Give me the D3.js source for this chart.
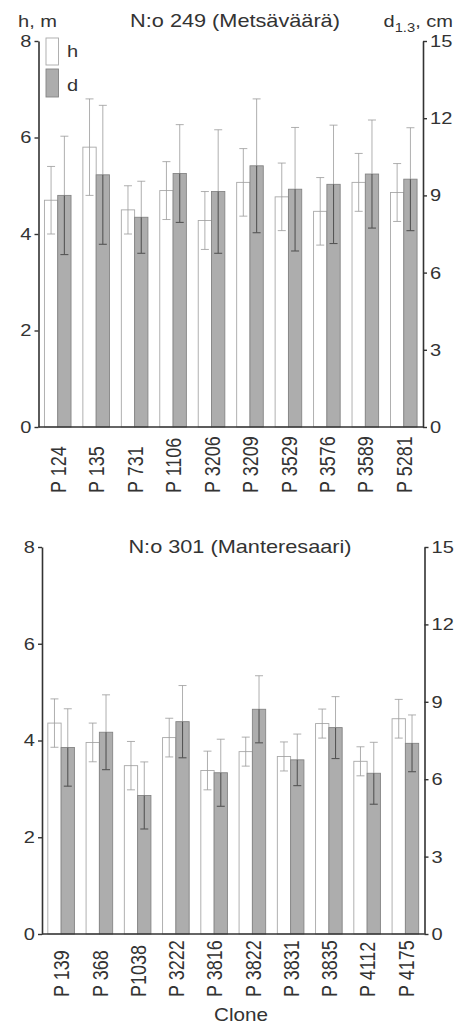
<!DOCTYPE html>
<html>
<head>
<meta charset="utf-8">
<script src="https://cdn.jsdelivr.net/npm/d3@7"></script>
<style>
body { margin: 0; background: #fff; }
text { font-family: "Liberation Sans", Arial, sans-serif; fill: #333; }
</style>
</head>
<body>
<div id="chart"></div>
<script>
var width = 455, height = 1026;
var sx = 1.18; // the scanned figure is a bit wider than tall

// N:o 249 (Metsäväärä)
var clones1 = ["P 124", "P 135", "P 731", "P 1106", "P 3206", "P 3209", "P 3529", "P 3576", "P 3589", "P 5281"];
var h1   = [4.7, 5.8, 4.5, 4.9, 4.28, 5.07, 4.77, 4.47, 5.07, 4.86];
var hsd1 = [0.7, 1.0, 0.5, 0.6, 0.6, 0.7, 0.7, 0.7, 0.6, 0.6];
var d1   = [9.0, 9.8, 8.15, 9.85, 9.15, 10.15, 9.24, 9.43, 9.83, 9.63];
var dsd1 = [2.3, 2.7, 1.4, 1.9, 2.4, 2.6, 2.4, 2.3, 2.1, 2.0];

// N:o 301 (Manteresaari)
var clones2 = ["P 139", "P 368", "P1038", "P 3222", "P 3816", "P 3822", "P 3831", "P 3835", "P 4112", "P 4175"];
var h2   = [4.36, 3.96, 3.48, 4.06, 3.38, 3.77, 3.67, 4.35, 3.57, 4.45];
var hsd2 = [0.5, 0.4, 0.5, 0.4, 0.4, 0.3, 0.3, 0.3, 0.3, 0.4];
var d2   = [7.23, 7.82, 5.37, 8.23, 6.25, 8.71, 6.75, 8.0, 6.23, 7.39];
var dsd2 = [1.5, 1.45, 1.3, 1.4, 1.3, 1.3, 1.0, 1.2, 1.2, 1.1];

var hTicks = [0, 2, 4, 6, 8];
var dTicks = [0, 3, 6, 9, 12, 15];

var svg = d3.select("#chart").append("svg")
    .attr("width", width)
    .attr("height", height);

function txt(g, x, y, s, size, anchor) {
  return g.append("text")
      .attr("transform", "translate(" + x + "," + y + ") scale(" + sx + ",1)")
      .attr("text-anchor", anchor || "start")
      .style("font-size", size + "px")
      .text(s);
}

function panel(p) {
  var g = svg.append("g");

  var x = d3.scaleBand().domain(p.clones).range([p.x0, p.x1]);
  var inner = d3.scaleBand().domain(["h", "d"]).range([0, 26.6]);
  var yL = d3.scaleLinear().domain([0, 8]).range([p.y0, p.y1]);
  var yR = d3.scaleLinear().domain([0, 15]).range([p.y0, p.y1]);

  var rows = p.clones.map(function(c, i) {
    return {clone: c, h: p.h[i], hsd: p.hsd[i], d: p.d[i], dsd: p.dsd[i]};
  });

  var grp = g.selectAll(".grp").data(rows).enter().append("g")
      .attr("transform", function(d) { return "translate(" + (x(d.clone) + x.bandwidth() / 2 - 13.3) + ",0)"; });

  // h bars (white)
  grp.append("rect")
      .attr("x", inner("h"))
      .attr("width", inner.bandwidth())
      .attr("y", function(d) { return yL(d.h); })
      .attr("height", function(d) { return p.y0 - yL(d.h); })
      .attr("fill", "#fff")
      .attr("stroke", "#a8a8a8")
      .attr("stroke-width", 0.9);

  // d bars (grey)
  grp.append("rect")
      .attr("x", inner("d"))
      .attr("width", inner.bandwidth())
      .attr("y", function(d) { return yR(d.d); })
      .attr("height", function(d) { return p.y0 - yR(d.d); })
      .attr("fill", "#adadad")
      .attr("stroke", "#858585")
      .attr("stroke-width", 0.9);

  // error bars
  function err(key, sdkey, sc, dark) {
    var cx = inner(key) + inner.bandwidth() / 2;
    grp.append("line")
        .attr("x1", cx).attr("x2", cx)
        .attr("y1", function(d) { return sc(d[key] + d[sdkey]); })
        .attr("y2", function(d) { return sc(d[key]); })
        .attr("stroke", "#9a9a9a").attr("stroke-width", 0.8);
    grp.append("line")
        .attr("x1", cx).attr("x2", cx)
        .attr("y1", function(d) { return sc(d[key]); })
        .attr("y2", function(d) { return sc(d[key] - d[sdkey]); })
        .attr("stroke", dark ? "#555" : "#9a9a9a").attr("stroke-width", dark ? 1.1 : 0.8);
    [1, -1].forEach(function(s) {
      grp.append("line")
          .attr("x1", cx - 4).attr("x2", cx + 4)
          .attr("y1", function(d) { return sc(d[key] + s * d[sdkey]); })
          .attr("y2", function(d) { return sc(d[key] + s * d[sdkey]); })
          .attr("stroke", s < 0 && dark ? "#555" : "#9a9a9a")
          .attr("stroke-width", s < 0 && dark ? 1.1 : 0.8);
    });
  }
  err("h", "hsd", yL, false);
  err("d", "dsd", yR, true);

  // axes
  var axL = g.append("g").attr("transform", "translate(" + p.x0 + ",0)")
      .call(d3.axisLeft(yL).tickValues(hTicks).tickSize(4).tickSizeOuter(0).tickPadding(2).tickFormat(d3.format("d")));
  var axR = g.append("g").attr("transform", "translate(" + p.x1 + ",0)")
      .call(d3.axisRight(yR).tickValues(dTicks).tickSize(4).tickSizeOuter(0).tickPadding(2).tickFormat(d3.format("d")));
  [axL, axR].forEach(function(a) {
    a.select(".domain").attr("stroke", "#333").attr("stroke-width", 1.6);
    a.selectAll(".tick line").attr("stroke", "#333").attr("stroke-width", 1.4);
    a.selectAll(".tick text")
        .style("font-size", "17px")
        .style("font-family", "'Liberation Sans', Arial, sans-serif")
        .attr("fill", "#333")
        .attr("transform", "scale(" + sx + ",1)");
  });

  // baseline
  g.append("line")
      .attr("x1", p.x0).attr("x2", p.x1)
      .attr("y1", p.y0).attr("y2", p.y0)
      .attr("stroke", "#333").attr("stroke-width", 1.6);

  // clone labels
  g.selectAll(".lab").data(p.clones).enter().append("text")
      .attr("transform", function(c) {
        return "translate(" + (x(c) + x.bandwidth() / 2 + 0.5) + "," + p.labY + ") scale(" + sx + ",1) rotate(-90)";
      })
      .attr("dy", "0.36em")
      .attr("text-anchor", "start")
      .style("font-size", "18px")
      .text(function(c) { return c; });

  txt(g, p.titleX, p.titleY, p.title, 18.4, "middle");
  return g;
}

panel({clones: clones1, h: h1, hsd: hsd1, d: d1, dsd: dsd1,
       x0: 38.5, x1: 423, y0: 427, y1: 41, labY: 493,
       title: "N:o 249 (Metsäväärä)", titleX: 235, titleY: 27});

panel({clones: clones2, h: h2, hsd: hsd2, d: d2, dsd: dsd2,
       x0: 42, x1: 424.5, y0: 934, y1: 547, labY: 997,
       title: "N:o 301 (Manteresaari)", titleX: 240, titleY: 553});

// axis titles
txt(svg, 18, 27, "h, m", 17, "start");
var dl = svg.append("text")
    .attr("transform", "translate(453,27) scale(" + sx + ",1)")
    .attr("text-anchor", "end")
    .style("font-size", "17px");
dl.append("tspan").text("d");
dl.append("tspan").attr("dy", 5).style("font-size", "12.5px").text("1.3");
dl.append("tspan").attr("dy", -5).text(", cm");

// legend
var leg = svg.append("g");
leg.append("rect").attr("x", 46).attr("y", 38).attr("width", 12.5).attr("height", 27)
    .attr("fill", "#fff").attr("stroke", "#a8a8a8").attr("stroke-width", 0.9);
leg.append("rect").attr("x", 46).attr("y", 69).attr("width", 12.5).attr("height", 28)
    .attr("fill", "#adadad").attr("stroke", "#858585").attr("stroke-width", 0.9);
txt(leg, 67, 57, "h", 17, "start");
txt(leg, 67, 90.5, "d", 17, "start");

txt(svg, 241, 1021, "Clone", 17.5, "middle");
</script>
</body>
</html>
